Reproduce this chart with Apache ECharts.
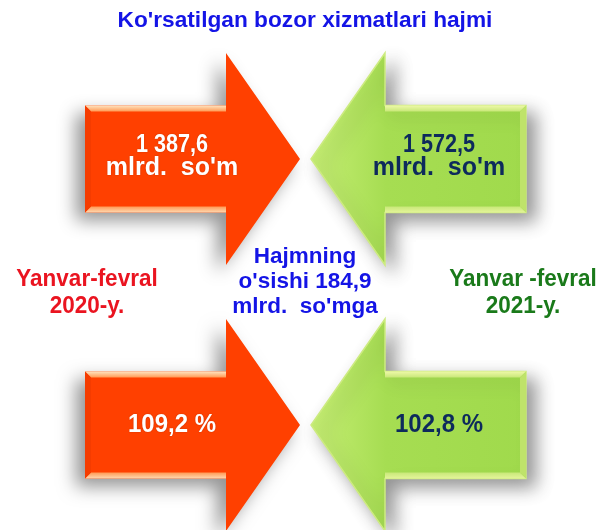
<!DOCTYPE html>
<html>
<head>
<meta charset="utf-8">
<script src="https://cdn.jsdelivr.net/npm/echarts@6/dist/echarts.min.js"></script>
<style>html,body{margin:0;padding:0;background:#fff}#c{width:610px;height:530px}</style>
</head>
<body>
<div id="c"></div>
<script>
// ---- data ----
const title = "Ko'rsatilgan bozor xizmatlari hajmi";
const periods = ['Yanvar-fevral 2020-y.', 'Yanvar -fevral 2021-y.'];
const periodLines = [['Yanvar-fevral', '2020-y.'], ['Yanvar -fevral', '2021-y.']];
const metrics = ['Hajm', "O'sish sur'ati"];
const volumes = [1387.6, 1572.5];        // mlrd. so'm
const growthRates = [109.2, 102.8];      // %
const volumeIncrease = 184.9;            // mlrd. so'm
const unitVolume = "mlrd.  so'm";

function fmt(v) {
  const s = v.toFixed(1).split('.');
  return s[0].replace(/\B(?=(\d{3})+(?!\d))/g, ' ') + ',' + s[1];
}

const seriesData = [];
periods.forEach((p, i) => { seriesData.push([i, 0, volumes[i]]); });
periods.forEach((p, i) => { seriesData.push([i, 1, growthRates[i]]); });

const FONT = "'Liberation Sans', Arial, sans-serif";

function renderArrow(params, api) {
  const pi = api.value(0), mi = api.value(1), v = api.value(2);
  const c = api.coord([pi, mi]);
  const cx = c[0], cy = c[1];
  const dir = pi === 0 ? 1 : -1;
  const red = pi === 0;
  const P = (dx, dy) => [cx + dir * dx, cy + dy];
  const back = -107, tip = 108, hb = 34, sh = 53.5, hh = 106, b = 6;
  const outline = [P(back, -sh), P(hb, -sh), P(hb, -hh), P(tip, 0), P(hb, hh), P(hb, sh), P(back, sh)];
  const fill = red ? '#ff4000' : new echarts.graphic.LinearGradient(dir === 1 ? 1 : 0, 0, dir === 1 ? 0 : 1, 0, [
    { offset: 0, color: '#c6ee74' }, { offset: 0.35, color: '#a6dd52' }, { offset: 1, color: '#a0da4c' }
  ]);
  const children = [];
  children.push({
    type: 'polygon', shape: { points: outline },
    style: {
      fill: fill,
      stroke: red ? null : '#cdeb80', lineWidth: red ? 0 : 1.5,
      shadowBlur: 18, shadowColor: 'rgba(0,0,0,0.42)', shadowOffsetX: -dir * 9, shadowOffsetY: 8
    }
  });
  const topC = red ? new echarts.graphic.LinearGradient(0, 0, 0, 1, [{ offset: 0, color: '#ffe4c0' }, { offset: 1, color: '#ff9a55' }])
                   : new echarts.graphic.LinearGradient(0, 0, 0, 1, [{ offset: 0, color: '#eef8a8' }, { offset: 1, color: '#c8e878' }]);
  const botC = red ? new echarts.graphic.LinearGradient(0, 0, 0, 1, [{ offset: 0, color: '#ff9a55' }, { offset: 1, color: '#ffd8b0' }])
                   : new echarts.graphic.LinearGradient(0, 0, 0, 1, [{ offset: 0, color: '#c8e878' }, { offset: 1, color: '#e4f49a' }]);
  children.push({ type: 'polygon', shape: { points: [P(back, -sh), P(hb, -sh), P(hb, -sh + b), P(back + b, -sh + b)] }, style: { fill: topC } });
  children.push({ type: 'polygon', shape: { points: [P(back, sh), P(hb, sh), P(hb, sh - b), P(back + b, sh - b)] }, style: { fill: botC } });
  children.push({ type: 'polygon', shape: { points: [P(back, -sh), P(back + b, -sh + b), P(back + b, sh - b), P(back, sh)] }, style: { fill: red ? '#f53c00' : '#bfe36a' } });
  const tcol = red ? '#ffffff' : '#0d2a5c';
  const tsh = red ? 'rgba(120,30,0,0.4)' : 'rgba(0,0,0,0)';
  const tx = cx - dir * 20;
  if (mi === 0) {
    children.push({
      type: 'text', x: tx, y: cy - 14, scaleX: 0.9, scaleY: 1.04,
      style: { text: fmt(v), x: 0, y: 0, align: 'center', verticalAlign: 'middle', fill: tcol,
        fontSize: 24, fontWeight: 'bold', fontFamily: FONT, textShadowColor: tsh, textShadowBlur: 2 }
    });
    children.push({
      type: 'text', x: tx, y: cy + 9,
      style: { text: unitVolume, x: 0, y: 0, align: 'center', verticalAlign: 'middle', fill: tcol,
        fontSize: 25, fontWeight: 'bold', fontFamily: FONT, textShadowColor: tsh, textShadowBlur: 2 }
    });
  } else {
    children.push({
      type: 'text', x: tx, y: cy, scaleY: 1.08,
      style: { text: fmt(v) + ' %', x: 0, y: 0, align: 'center', verticalAlign: 'middle', fill: tcol,
        fontSize: 24, fontWeight: 'bold', fontFamily: FONT, textShadowColor: tsh, textShadowBlur: 2 }
    });
  }
  return { type: 'group', children: children };
}

const chart = echarts.init(document.getElementById('c'), null, { renderer: 'canvas' });
chart.setOption({
  animation: false,
  backgroundColor: '#ffffff',
  grid: { left: 192, width: 227, top: 159, height: 266, containLabel: false },
  xAxis: { type: 'category', data: periods, show: false, boundaryGap: false },
  yAxis: { type: 'category', data: metrics, inverse: true, show: false, boundaryGap: false },
  series: [{
    type: 'custom', renderItem: renderArrow, data: seriesData, clip: false,
    encode: { x: 0, y: 1 }
  }],
  graphic: [
    { type: 'text', x: 305, y: 21, style: { text: title, align: 'center', verticalAlign: 'middle', fill: '#1414e6', fontSize: 22.7, fontWeight: 'bold', fontFamily: FONT } },
    { type: 'text', x: 87, y: 293, scaleY: 1.06, style: { text: periodLines[0].join('\n'), align: 'center', verticalAlign: 'middle', fill: '#ea1420', fontSize: 22.5, fontWeight: 'bold', fontFamily: FONT, lineHeight: 25 } },
    { type: 'text', x: 523, y: 293, scaleY: 1.06, style: { text: periodLines[1].join('\n'), align: 'center', verticalAlign: 'middle', fill: '#1a7a1a', fontSize: 22.5, fontWeight: 'bold', fontFamily: FONT, lineHeight: 25 } },
    { type: 'text', x: 305, y: 282, style: { text: "Hajmning\no'sishi " + fmt(volumeIncrease) + "\n" + "mlrd.  so'mga", align: 'center', verticalAlign: 'middle', fill: '#1414e6', fontSize: 22.5, fontWeight: 'bold', fontFamily: FONT, lineHeight: 25 } }
  ]
});
</script>
</body>
</html>
